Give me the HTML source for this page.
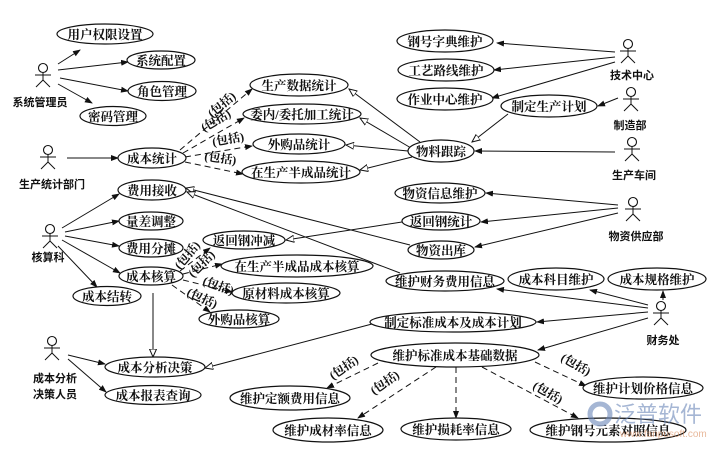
<!DOCTYPE html>
<html><head><meta charset="utf-8"><style>
html,body{margin:0;padding:0;background:#fff;}
svg{display:block;}
text{font-family:"Liberation Serif","Noto Serif CJK SC",serif;font-size:12.5px;fill:#111;font-weight:bold;}
.a{font-size:11px;font-family:"Liberation Sans","Noto Sans CJK SC",sans-serif;}
.i{font-size:12px;font-weight:bold;}
ellipse{fill:#fff;stroke:#111;stroke-width:1.2;}
line,polyline{stroke:#111;stroke-width:1;fill:none;}
.d{stroke-dasharray:6,4;}
</style></head><body>
<svg width="713" height="450" viewBox="0 0 713 450" xmlns="http://www.w3.org/2000/svg">
<defs>
<marker id="f" markerWidth="8" markerHeight="6" refX="7" refY="3" orient="auto" markerUnits="userSpaceOnUse"><path d="M0,0L8,3L0,6z" fill="#111"/></marker>
<marker id="h" markerWidth="9" markerHeight="8" refX="8" refY="4" orient="auto" markerUnits="userSpaceOnUse"><path d="M0,0.5L8,4L0,7.5z" fill="#fff" stroke="#111" stroke-width="1"/></marker>
<g id="act"><circle cx="0" cy="0" r="4.5" fill="#fff" stroke="#111" stroke-width="1.1"/><line x1="0" y1="4.5" x2="0" y2="12"/><line x1="-8" y1="7" x2="8" y2="7"/><line x1="0" y1="12" x2="-7" y2="19"/><line x1="0" y1="12" x2="7" y2="19"/></g>
</defs>

<use href="#act" x="43" y="68"/><text class="a" x="40" y="106" text-anchor="middle">系统管理员</text>
<use href="#act" x="48" y="150"/><text class="a" x="52" y="188" text-anchor="middle">生产统计部门</text>
<use href="#act" x="50" y="229"/><text class="a" x="48" y="261" text-anchor="middle">核算科</text>
<use href="#act" x="52" y="341"/><text class="a" x="55" y="382" text-anchor="middle">成本分析</text><text class="a" x="55" y="398" text-anchor="middle">决策人员</text>
<use href="#act" x="628" y="44"/><text class="a" x="632" y="79" text-anchor="middle">技术中心</text>
<use href="#act" x="631" y="92"/><text class="a" x="630" y="129" text-anchor="middle">制造部</text>
<use href="#act" x="632" y="142"/><text class="a" x="634" y="179" text-anchor="middle">生产车间</text>
<use href="#act" x="633" y="202"/><text class="a" x="636" y="240" text-anchor="middle">物资供应部</text>
<use href="#act" x="661" y="306"/><text class="a" x="663" y="344" text-anchor="middle">财务处</text>

<line x1="58" y1="64" x2="80" y2="50" marker-end="url(#f)"/>
<line x1="58" y1="70" x2="128" y2="62" marker-end="url(#f)"/>
<line x1="60" y1="78" x2="128" y2="91" marker-end="url(#f)"/>
<line x1="58" y1="84" x2="92" y2="103" marker-end="url(#f)"/>
<line x1="67" y1="158" x2="118" y2="158" marker-end="url(#f)"/>
<line class="d" x1="180" y1="150" x2="252" y2="89" marker-end="url(#f)"/>
<line class="d" x1="183" y1="153" x2="244" y2="118" marker-end="url(#f)"/>
<line class="d" x1="185" y1="157" x2="252" y2="146" marker-end="url(#f)"/>
<line class="d" x1="185" y1="162" x2="243" y2="174" marker-end="url(#f)"/>
<line x1="420" y1="142" x2="349" y2="89" marker-end="url(#h)"/>
<line x1="411" y1="148" x2="360" y2="118" marker-end="url(#h)"/>
<line x1="408" y1="151" x2="346" y2="145" marker-end="url(#h)"/>
<line x1="412" y1="157" x2="360" y2="170" marker-end="url(#h)"/>
<line x1="615" y1="52" x2="497" y2="43" marker-end="url(#f)"/>
<line x1="615" y1="57" x2="494" y2="70" marker-end="url(#f)"/>
<line x1="615" y1="62" x2="492" y2="98" marker-end="url(#f)"/>
<line x1="618" y1="98" x2="598" y2="106" marker-end="url(#f)"/>
<line x1="508" y1="114" x2="472" y2="142" marker-end="url(#h)"/>
<line x1="615" y1="152" x2="475" y2="151" marker-end="url(#f)"/>
<line x1="618" y1="205" x2="486" y2="193" marker-end="url(#f)"/>
<line x1="618" y1="208" x2="481" y2="222" marker-end="url(#f)"/>
<line x1="618" y1="213" x2="475" y2="247" marker-end="url(#f)"/>
<line x1="402" y1="222" x2="286" y2="240" marker-end="url(#h)"/>
<line x1="410" y1="245" x2="186" y2="188" marker-end="url(#h)"/>
<line x1="400" y1="273" x2="187" y2="192" marker-end="url(#h)"/>
<line x1="62" y1="228" x2="119" y2="194" marker-end="url(#f)"/>
<line x1="65" y1="232" x2="119" y2="221" marker-end="url(#f)"/>
<line x1="65" y1="236" x2="119" y2="246" marker-end="url(#f)"/>
<line x1="62" y1="240" x2="120" y2="273" marker-end="url(#f)"/>
<line x1="58" y1="246" x2="97" y2="287" marker-end="url(#f)"/>
<line class="d" x1="180" y1="271" x2="210" y2="248" marker-end="url(#f)"/>
<line class="d" x1="183" y1="274" x2="222" y2="264" marker-end="url(#f)"/>
<line class="d" x1="183" y1="280" x2="232" y2="292" marker-end="url(#f)"/>
<line class="d" x1="172" y1="285" x2="210" y2="312" marker-end="url(#f)"/>
<line x1="153" y1="293" x2="153" y2="357" marker-end="url(#h)"/>
<line x1="372" y1="324" x2="205" y2="368" marker-end="url(#h)"/>
<line x1="68" y1="355" x2="105" y2="364" marker-end="url(#f)"/>
<line x1="68" y1="359" x2="106" y2="392" marker-end="url(#f)"/>
<line x1="663" y1="300" x2="663" y2="291" marker-end="url(#f)"/>
<line x1="648" y1="305" x2="590" y2="290" marker-end="url(#f)"/>
<line x1="648" y1="308" x2="497" y2="289" marker-end="url(#f)"/>
<line x1="648" y1="312" x2="537" y2="322" marker-end="url(#f)"/>
<line x1="648" y1="318" x2="538" y2="350" marker-end="url(#f)"/>
<line class="d" x1="535" y1="362" x2="586" y2="386" marker-end="url(#f)"/>
<line class="d" x1="378" y1="363" x2="327" y2="388" marker-end="url(#f)"/>
<line class="d" x1="436" y1="367" x2="358" y2="418" marker-end="url(#f)"/>
<line class="d" x1="456" y1="367" x2="456" y2="418" marker-end="url(#f)"/>
<line class="d" x1="482" y1="367" x2="578" y2="418" marker-end="url(#f)"/>

<text class="i" transform="translate(212,118) rotate(-40)">(包括)</text>
<text class="i" transform="translate(204,132) rotate(-30)">(包括)</text>
<text class="i" transform="translate(213,146) rotate(-10)">(包括)</text>
<text class="i" transform="translate(204,160) rotate(8)">(包括)</text>
<text class="i" transform="translate(180,270) rotate(-50)">(包括)</text>
<text class="i" transform="translate(193,278) rotate(-45)">(包括)</text>
<text class="i" transform="translate(202,284) rotate(20)">(包括)</text>
<text class="i" transform="translate(186,295) rotate(25)">(包括)</text>
<text class="i" transform="translate(333,380) rotate(-35)">(包括)</text>
<text class="i" transform="translate(374,395) rotate(-35)">(包括)</text>
<text class="i" transform="translate(532,388) rotate(30)">(包括)</text>
<text class="i" transform="translate(560,360) rotate(30)">(包括)</text>

<ellipse cx="105" cy="34" rx="48" ry="10"/><text x="105" y="39" text-anchor="middle">用户权限设置</text>
<ellipse cx="161" cy="60" rx="34" ry="9"/><text x="161" y="65" text-anchor="middle">系统配置</text>
<ellipse cx="162" cy="91" rx="34" ry="9.5"/><text x="162" y="96" text-anchor="middle">角色管理</text>
<ellipse cx="113" cy="116" rx="33" ry="9.5"/><text x="113" y="121" text-anchor="middle">密码管理</text>
<ellipse cx="299" cy="85" rx="49" ry="11"/><text x="299" y="90" text-anchor="middle">生产数据统计</text>
<ellipse cx="302" cy="114" rx="59" ry="10"/><text x="302" y="119" text-anchor="middle">委内/委托加工统计</text>
<ellipse cx="299" cy="144" rx="46" ry="10"/><text x="299" y="149" text-anchor="middle">外购品统计</text>
<ellipse cx="301" cy="172" rx="59" ry="11"/><text x="301" y="177" text-anchor="middle">在生产半成品统计</text>
<ellipse cx="152" cy="158" rx="34" ry="10"/><text x="152" y="163" text-anchor="middle">成本统计</text>
<ellipse cx="152" cy="190" rx="34" ry="10"/><text x="152" y="195" text-anchor="middle">费用接收</text>
<ellipse cx="151" cy="221" rx="32" ry="9"/><text x="151" y="226" text-anchor="middle">量差调整</text>
<ellipse cx="151" cy="248" rx="32" ry="9"/><text x="151" y="253" text-anchor="middle">费用分摊</text>
<ellipse cx="151" cy="276" rx="32" ry="9"/><text x="151" y="281" text-anchor="middle">成本核算</text>
<ellipse cx="107" cy="296" rx="34" ry="9.5"/><text x="107" y="301" text-anchor="middle">成本结转</text>
<ellipse cx="244" cy="240" rx="41" ry="9"/><text x="244" y="245" text-anchor="middle">返回钢冲减</text>
<ellipse cx="297" cy="266" rx="76" ry="11"/><text x="297" y="271" text-anchor="middle">在生产半成品成本核算</text>
<ellipse cx="286" cy="293" rx="54" ry="10"/><text x="286" y="298" text-anchor="middle">原材料成本核算</text>
<ellipse cx="239" cy="319" rx="40" ry="9"/><text x="239" y="324" text-anchor="middle">外购品核算</text>
<ellipse cx="155" cy="367" rx="50" ry="10"/><text x="155" y="372" text-anchor="middle">成本分析决策</text>
<ellipse cx="153" cy="395" rx="48" ry="9.5"/><text x="153" y="400" text-anchor="middle">成本报表查询</text>
<ellipse cx="290" cy="398" rx="60" ry="12"/><text x="290" y="403" text-anchor="middle">维护定额费用信息</text>
<ellipse cx="328" cy="430" rx="55" ry="12"/><text x="328" y="435" text-anchor="middle">维护成材率信息</text>
<ellipse cx="456" cy="429" rx="55" ry="11"/><text x="456" y="434" text-anchor="middle">维护损耗率信息</text>
<ellipse cx="608" cy="430" rx="78" ry="12"/><text x="608" y="435" text-anchor="middle">维护钢号元素对照信息</text>
<ellipse cx="643" cy="388" rx="60" ry="11"/><text x="643" y="393" text-anchor="middle">维护计划价格信息</text>
<ellipse cx="455" cy="355" rx="84" ry="12"/><text x="455" y="360" text-anchor="middle">维护标准成本基础数据</text>
<ellipse cx="453" cy="322" rx="83" ry="10"/><text x="453" y="327" text-anchor="middle">制定标准成本及成本计划</text>
<ellipse cx="445" cy="281" rx="59" ry="10"/><text x="445" y="286" text-anchor="middle">维护财务费用信息</text>
<ellipse cx="556" cy="279" rx="48" ry="11"/><text x="556" y="284" text-anchor="middle">成本科目维护</text>
<ellipse cx="657" cy="279" rx="49" ry="11"/><text x="657" y="284" text-anchor="middle">成本规格维护</text>
<ellipse cx="441" cy="250" rx="33" ry="9"/><text x="441" y="255" text-anchor="middle">物资出库</text>
<ellipse cx="441" cy="221" rx="39" ry="9"/><text x="441" y="226" text-anchor="middle">返回钢统计</text>
<ellipse cx="440" cy="193" rx="45" ry="10"/><text x="440" y="198" text-anchor="middle">物资信息维护</text>
<ellipse cx="441" cy="151" rx="33" ry="11"/><text x="441" y="156" text-anchor="middle">物料跟踪</text>
<ellipse cx="549" cy="106" rx="48" ry="11"/><text x="549" y="111" text-anchor="middle">制定生产计划</text>
<ellipse cx="445" cy="99" rx="48" ry="11"/><text x="445" y="104" text-anchor="middle">作业中心维护</text>
<ellipse cx="446" cy="70" rx="48" ry="11"/><text x="446" y="75" text-anchor="middle">工艺路线维护</text>
<ellipse cx="445" cy="41" rx="48" ry="11"/><text x="445" y="46" text-anchor="middle">钢号字典维护</text>

<g opacity="0.6">
<circle cx="600" cy="414" r="10" fill="none" stroke="#6a86b8" stroke-width="5"/>
<text x="614" y="422" style="font-size:22px;fill:#6a86b8;font-family:'Noto Sans CJK SC',sans-serif;font-weight:normal">泛普软件</text>
<text x="620" y="437" style="font-size:10px;fill:#d98a5a;font-family:'Liberation Sans',sans-serif;font-weight:normal">www.fanpusoft.com</text>
</g>
</svg>
</body></html>
